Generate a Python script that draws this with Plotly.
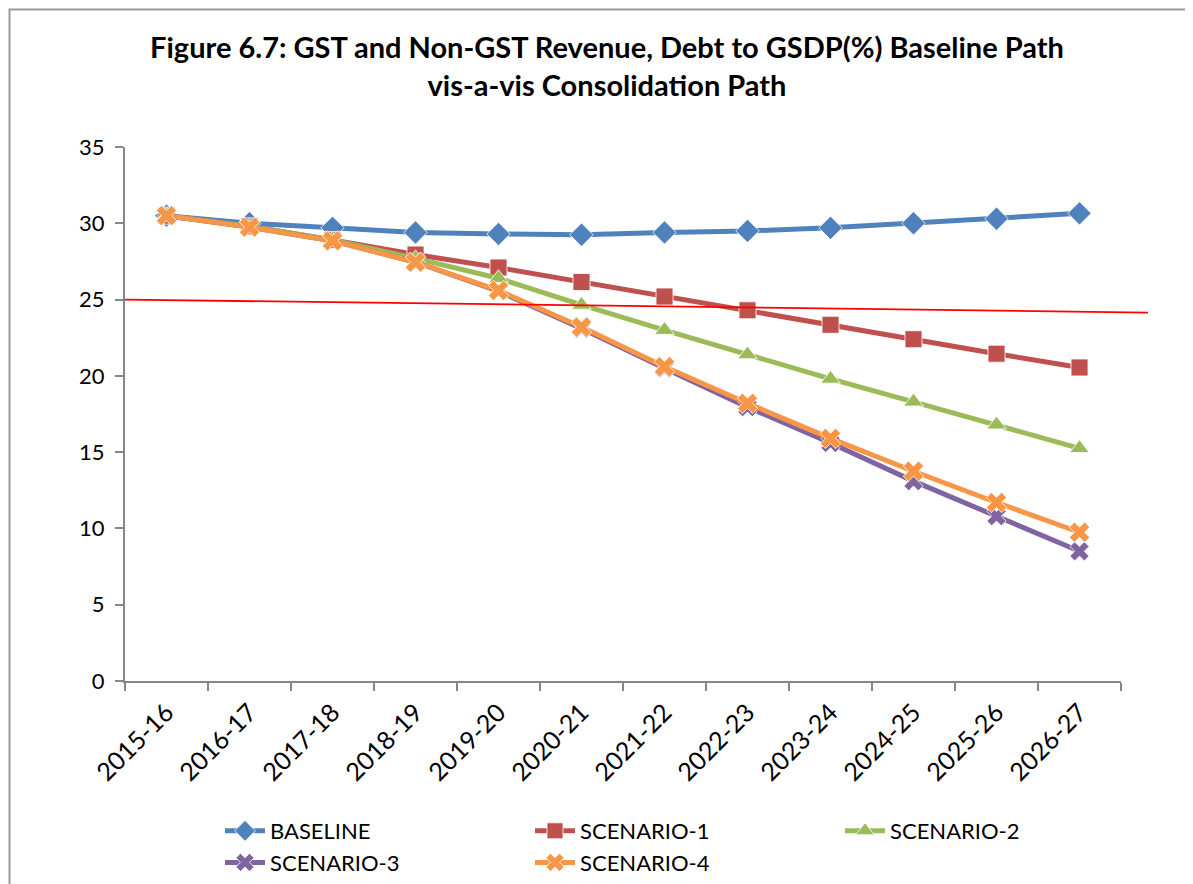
import plotly.graph_objects as go

years = ["2015-16", "2016-17", "2017-18", "2018-19", "2019-20", "2020-21",
         "2021-22", "2022-23", "2023-24", "2024-25", "2025-26", "2026-27"]
baseline = [30.5, 30.0, 29.7, 29.4, 29.3, 29.25, 29.4, 29.5, 29.7, 30.0, 30.3, 30.65]
scenario1 = [30.5, 29.8, 28.9, 27.95, 27.1, 26.15, 25.2, 24.3, 23.35, 22.4, 21.45, 20.55]
scenario2 = [30.5, 29.8, 28.9, 27.7, 26.4, 24.65, 23.0, 21.4, 19.8, 18.3, 16.8, 15.25]
scenario3 = [30.5, 29.75, 28.85, 27.45, 25.55, 23.1, 20.5, 17.95, 15.6, 13.1, 10.8, 8.5]
scenario4 = [30.5, 29.75, 28.85, 27.45, 25.6, 23.2, 20.6, 18.2, 15.9, 13.75, 11.7, 9.75]
ref_line_start, ref_line_end = 25.0, 24.15

names = ["BASELINE", "SCENARIO-1", "SCENARIO-2", "SCENARIO-3", "SCENARIO-4"]
series = [baseline, scenario1, scenario2, scenario3, scenario4]
colors = ["#4F81BD", "#C0504D", "#9BBB59", "#8064A2", "#F79646"]
symbols = ["diamond", "square", "triangle-up", "x", "x"]
sizes = [18, 17, 17, 17, 18]

fig = go.Figure()
for n, s, c, sym, sz in zip(names, series, colors, symbols, sizes):
    fig.add_trace(go.Scatter(
        x=years, y=s, name=n, mode="lines+markers",
        line=dict(color=c, width=5),
        marker=dict(symbol=sym, size=sz, color=c, line=dict(color="white", width=0.8)),
    ))

FONT = "Lato, Open Sans, sans-serif"
OFF = 8  # page body margin
W, H = 1193 - OFF, 884 - OFF
L = 125 - OFF
T = 147 - OFF
R = W - (1121 - OFF)
B = H - (681 - OFF)
pw, ph = W - L - R, H - T - B

def px(xp):
    return (xp - OFF - L) / pw

def py(yp):
    return (H - B - (yp - OFF)) / ph

fig.update_layout(
    width=W, height=H,
    margin=dict(l=L, r=R, t=T, b=B, autoexpand=False),
    paper_bgcolor="white", plot_bgcolor="white",
    font=dict(family=FONT, color="black", size=22),
    title=dict(
        text="<b>Figure 6.7: GST and Non-GST Revenue, Debt to GSDP(%) Baseline Path<br>vis-a-vis Consolidation Path</b>",
        x=(607 - OFF) / W, xanchor="center", y=1 - (58 - OFF) / H, yanchor="top",
        font=dict(family=FONT, size=29, color="black"),
    ),
    xaxis=dict(
        showgrid=False, showline=True, linecolor="#868686", linewidth=2,
        ticks="outside", tickson="boundaries", ticklen=8, tickcolor="#868686", tickwidth=2,
        tickangle=-45, tickfont=dict(size=25, family=FONT),
        range=[-0.5, 11.5], zeroline=False, ticklabelstandoff=5,
    ),
    yaxis=dict(
        range=[0, 35], dtick=5, showgrid=False, showline=True, linecolor="#868686", linewidth=2,
        ticks="outside", ticklen=8, tickcolor="#868686", tickwidth=2,
        tickfont=dict(size=22, family=FONT), zeroline=False, ticklabelstandoff=6,
    ),
    legend=dict(
        orientation="h", xref="container", yref="container",
        x=(220 - OFF) / W, xanchor="left", y=1 - (810 - OFF) / H, yanchor="top",
        entrywidth=255, entrywidthmode="pixels", itemwidth=40,
        font=dict(size=22, family=FONT), tracegroupgap=0,
    ),
    showlegend=True,
)

# hand-drawn reference line
fig.add_shape(type="line", xref="paper", yref="y",
              x0=0, x1=px(1148), y0=ref_line_start, y1=ref_line_end,
              line=dict(color="#FF0000", width=1.8))
# chart border
fig.add_shape(type="rect", xref="paper", yref="paper",
              x0=px(9.5), x1=px(1250), y0=py(950), y1=py(9.5),
              line=dict(color="#9A9A9A", width=2), layer="below")

fig.write_html("out.html")
